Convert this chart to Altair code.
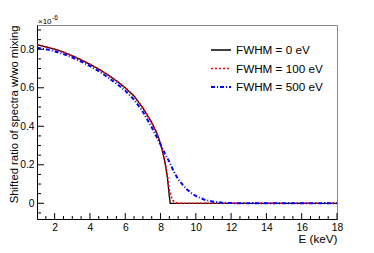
import altair as alt
import pandas as pd

# ---- data (y in units of 1e-6) ----
x_black = [1, 1.5, 2, 2.5, 3, 3.5, 4, 4.5, 5, 5.5, 6, 6.5, 7, 7.5, 7.8, 8.0, 8.1, 8.2, 8.3, 8.4, 8.5, 8.55, 18]
y_black = [0.823, 0.813, 0.801, 0.785, 0.766, 0.745, 0.722, 0.697, 0.668, 0.636, 0.600, 0.557, 0.495, 0.42, 0.362, 0.31, 0.275, 0.235, 0.19, 0.125, 0.035, 0.0, 0.0]

x_red = [1, 1.5, 2, 2.5, 3, 3.5, 4, 4.5, 5, 5.5, 6, 6.5, 7, 7.5, 7.8, 8.0, 8.1, 8.2, 8.3, 8.4, 8.5, 8.6, 8.7, 8.8, 8.9, 9.0, 18]
y_red = [0.823, 0.813, 0.801, 0.785, 0.766, 0.745, 0.722, 0.697, 0.668, 0.636, 0.600, 0.557, 0.495, 0.42, 0.362, 0.31, 0.275, 0.235, 0.188, 0.135, 0.07, 0.035, 0.015, 0.006, 0.002, 0.0, 0.0]

x_blue = [1, 1.5, 2, 2.5, 3, 3.5, 4, 4.5, 5, 5.5, 6, 6.5, 7, 7.5, 8, 8.25, 8.5, 8.75, 9, 9.25, 9.5, 9.75, 10, 10.5, 11, 11.5, 12, 12.5, 18]
y_blue = [0.808, 0.800, 0.790, 0.775, 0.757, 0.736, 0.713, 0.686, 0.655, 0.622, 0.585, 0.538, 0.475, 0.395, 0.305, 0.258, 0.215, 0.165, 0.125, 0.097, 0.072, 0.053, 0.038, 0.018, 0.008, 0.003, 0.001, 0.0, 0.0]

series_names = ["FWHM = 0 eV", "FWHM = 100 eV", "FWHM = 500 eV"]
series_colors = ["#000000", "#ff0000", "#0000ff"]

x_major = [2, 4, 6, 8, 10, 12, 14, 16, 18]
x_minor = [v / 2 for v in range(3, 36) if (v / 2) not in x_major]
y_major = [0, 0.2, 0.4, 0.6, 0.8]
y_minor = [round(-0.05 + 0.05 * i, 2) for i in range(20) if round(-0.05 + 0.05 * i, 2) not in y_major]

W, H = 300, 194
X_DOMAIN = [1, 18]
Y_DOMAIN = [-0.0816, 0.926]

rows = []
for name, xs, ys in [(series_names[0], x_black, y_black),
                     (series_names[1], x_red, y_red),
                     (series_names[2], x_blue, y_blue)]:
    for a, b in zip(xs, ys):
        rows.append({"E": a, "r": b, "s": name})
df = pd.DataFrame(rows)

FONT = "Liberation Sans"

xscale = alt.Scale(domain=X_DOMAIN, nice=False, zero=False)
yscale = alt.Scale(domain=Y_DOMAIN, nice=False, zero=False)

x_axis = alt.Axis(values=x_major, ticks=False, grid=False, labelFlush=False,
                  labelOverlap=False, domainColor="black", labelFontSize=10.3,
                  labelPadding=3, labelColor="black", title="E (keV)",
                  titleX=W, titleY=23, titleAlign="right", titleBaseline="alphabetic",
                  titleFontSize=11.7, titleFontWeight="normal", titleColor="black")
y_axis = alt.Axis(values=y_major, format=".1~f", ticks=False, grid=False,
                  labelOverlap=False, domainColor="black", labelFontSize=10.3,
                  labelPadding=3, labelColor="black",
                  title="Shifted ratio of spectra w/wo mixing",
                  titleAngle=270, titleX=-19.6, titleY=0, titleAlign="right",
                  titleBaseline="alphabetic", titleFontSize=11.3,
                  titleFontWeight="normal", titleColor="black")

leg = dict(orient="none", legendX=173, legendY=14, title=None,
           symbolType="stroke", symbolSize=400, symbolStrokeWidth=1.6,
           labelFontSize=11.7, labelColor="black", labelOffset=4,
           rowPadding=0.5, labelFont=FONT)

lines = alt.Chart(df).mark_line(clip=True, interpolate="linear").encode(
    x=alt.X("E:Q", scale=xscale, axis=x_axis),
    y=alt.Y("r:Q", scale=yscale, axis=y_axis),
    color=alt.Color("s:N", scale=alt.Scale(domain=series_names, range=series_colors),
                    legend=alt.Legend(**leg)),
    strokeDash=alt.StrokeDash("s:N", scale=alt.Scale(domain=series_names,
                                                     range=[[1, 0], [2, 2], [4, 2, 1, 2]]),
                              legend=alt.Legend(**leg)),
    strokeWidth=alt.StrokeWidth("s:N", scale=alt.Scale(domain=series_names, range=[1.3, 2, 2]),
                                legend=None),
    order=alt.Order("E:Q"),
)

xmaj = alt.Chart(pd.DataFrame({"E": x_major})).mark_rule(color="black", strokeWidth=1).encode(
    x=alt.X("E:Q", scale=xscale, axis=x_axis), y=alt.value(H), y2=alt.value(H - 6))
xmin = alt.Chart(pd.DataFrame({"E": x_minor})).mark_rule(color="black", strokeWidth=1).encode(
    x=alt.X("E:Q", scale=xscale, axis=x_axis), y=alt.value(H), y2=alt.value(H - 3))
ymaj = alt.Chart(pd.DataFrame({"r": y_major})).mark_rule(color="black", strokeWidth=1).encode(
    y=alt.Y("r:Q", scale=yscale, axis=y_axis), x=alt.value(0), x2=alt.value(7))
ymin = alt.Chart(pd.DataFrame({"r": y_minor})).mark_rule(color="black", strokeWidth=1).encode(
    y=alt.Y("r:Q", scale=yscale, axis=y_axis), x=alt.value(0), x2=alt.value(4))

exp_base = alt.Chart(pd.DataFrame({"t": ["×10"]})).mark_text(
    align="left", baseline="alphabetic", fontSize=8, font=FONT, color="black").encode(
    x=alt.value(1), y=alt.value(-1), text="t:N")
exp_pow = alt.Chart(pd.DataFrame({"t": ["-6"]})).mark_text(
    align="left", baseline="alphabetic", fontSize=6.5, font=FONT, color="black").encode(
    x=alt.value(15), y=alt.value(-5.5), text="t:N")

chart = alt.layer(lines, xmaj, xmin, ymaj, ymin, exp_base, exp_pow).properties(
    width=W, height=H,
    autosize=alt.AutoSizeParams(type="none"),
    padding={"left": 29, "top": 17, "right": 20, "bottom": 26},
).configure(font=FONT).configure_view(stroke="#888888", strokeWidth=1
).configure_axis(labelOverlap=False)

chart.save("out.html", embed_options={"renderer": "svg", "actions": False})
